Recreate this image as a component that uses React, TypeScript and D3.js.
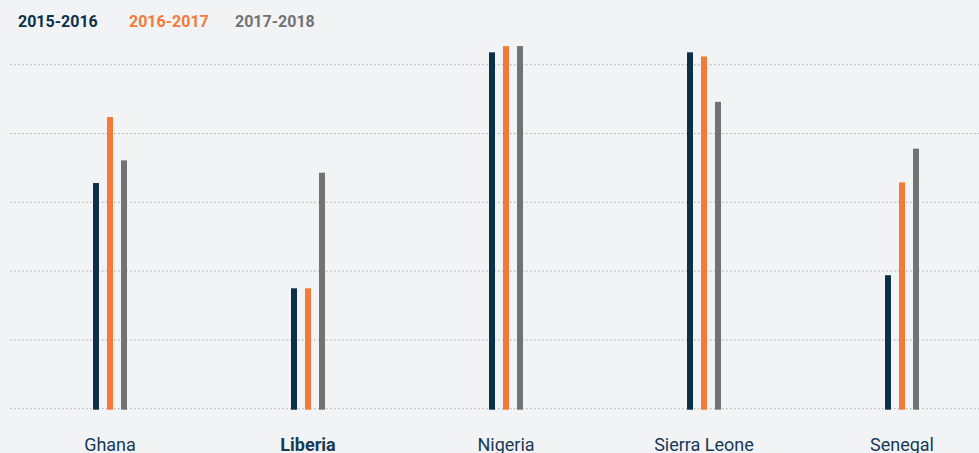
import React from "react";
import * as d3 from "d3";

const countries = ["Ghana", "Liberia", "Nigeria", "Sierra Leone", "Senegal"];
const seriesNames = ["2015-2016", "2016-2017", "2017-2018"];
// values per series, in gridline units (no axis labels shown on the chart)
const v2015 = [3.28, 1.75, 5.18, 5.18, 1.94];
const v2016 = [4.24, 1.75, 5.27, 5.12, 3.29];
const v2017 = [3.61, 3.43, 5.27, 4.46, 3.78];
const gridTicks = [0, 1, 2, 3, 4, 5];
const highlighted = "Liberia";

const colors = ["#0c3049", "#f47a3a", "#727273"];

var W = 979;
var H = 453;

export default function App() {
  const series = [v2015, v2016, v2017];

  var x = d3.scaleBand().domain(countries).range([11, 1001]).padding(0);
  var inner = d3.scaleBand().domain(seriesNames).range([-21, 21]);
  var y = d3.scaleLinear().domain([0, 5]).range([408.7, 64.7]);
  const barW = 6;

  return (
    <div style={{ position: "absolute", left: 0, top: 0 }}>
      <svg width={W} height={H} style={{ display: "block", background: "#f2f3f5" }}>
        {/* legend */}
        {seriesNames.map((s, i) => (
          <text
            key={s}
            x={[18, 129, 235][i]}
            y={27}
            fill={colors[i]}
            fontFamily="Roboto, sans-serif"
            fontWeight="bold"
            fontSize={16}
          >
            {s}
          </text>
        ))}

        {/* grid */}
        {gridTicks.map(t => (
          <line
            key={t}
            x1={10}
            x2={W}
            y1={y(t)}
            y2={y(t)}
            stroke="#a9a9ab"
            strokeWidth={1}
            strokeDasharray="1.5 2.5"
          />
        ))}

        {/* bars */}
        {countries.map((c, ci) => {
          const cx = x(c)! + x.bandwidth() / 2;
          return (
            <g key={c}>
              {series.map((vals, si) => {
                const bx = cx + inner(seriesNames[si])! + inner.bandwidth() / 2 - barW / 2;
                return (
                  <rect
                    key={si}
                    x={bx}
                    y={y(vals[ci])}
                    width={barW}
                    height={y(0) - y(vals[ci]) + 1}
                    fill={colors[si]}
                  />
                );
              })}
              <text
                x={cx}
                y={451}
                textAnchor="middle"
                fill="#173a55"
                fontFamily="Roboto, sans-serif"
                fontSize={18}
                fontWeight={c === highlighted ? "bold" : "normal"}
              >
                {c}
              </text>
            </g>
          );
        })}
      </svg>
    </div>
  );
}
